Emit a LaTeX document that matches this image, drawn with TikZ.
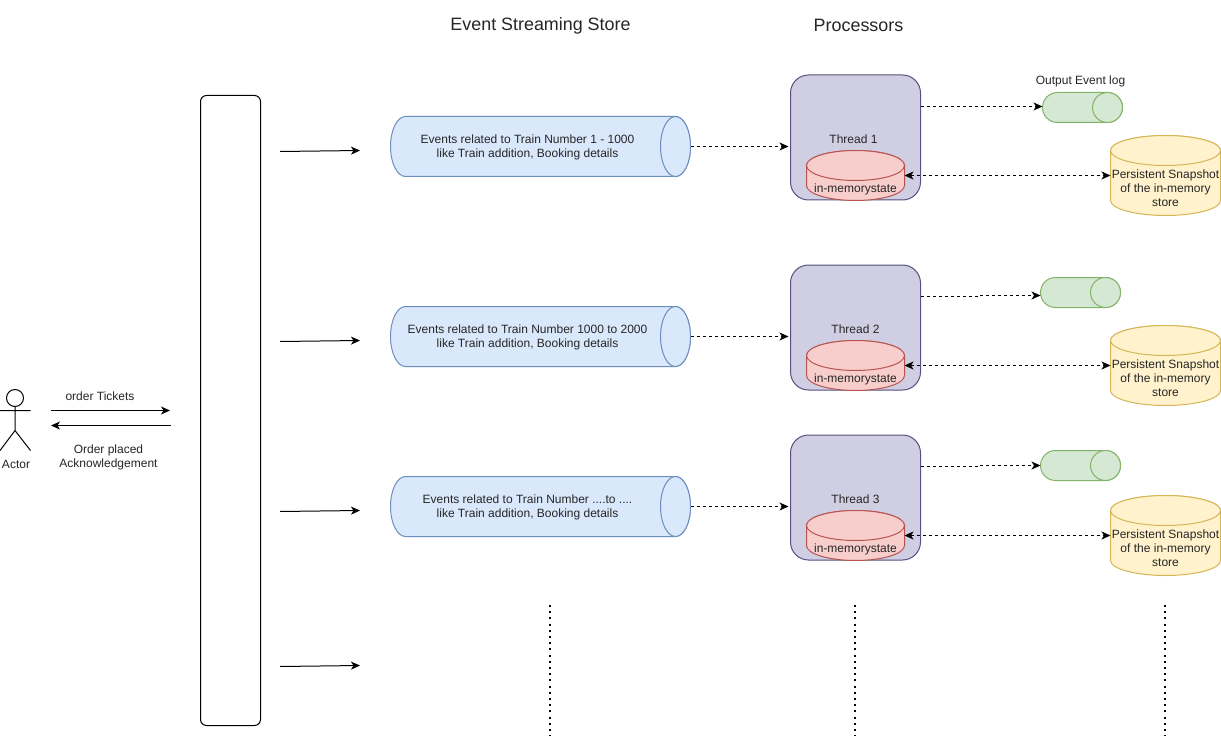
\documentclass[tikz,border=0pt]{standalone}
\usepackage{fontspec}
\setmainfont{Liberation Sans}
\usetikzlibrary{arrows.meta}
\definecolor{bluef}{HTML}{DAE8FC}\definecolor{blues}{HTML}{6C8EBF}
\definecolor{purf}{HTML}{D0CEE2}\definecolor{purs}{HTML}{56517E}
\definecolor{redf}{HTML}{F8CECC}\definecolor{reds}{HTML}{B85450}
\definecolor{grnf}{HTML}{D5E8D4}\definecolor{grns}{HTML}{82B366}
\definecolor{yelf}{HTML}{FFF2CC}\definecolor{yels}{HTML}{D6B656}
\tikzset{
  hit/.style={rectangle,inner sep=0pt,outer sep=0pt},
  lbl/.style={inner sep=0pt,outer sep=0pt,font=\fontsize{12}{14}\selectfont,align=center,text=black!85},
  title/.style={inner sep=0pt,outer sep=0pt,font=\fontsize{17.9}{20}\selectfont,text=black!85},
  conn/.style={line width=1pt,-{Stealth[length=9pt,width=8pt,inset=2.5pt]}},
  dconn/.style={conn,dashed,dash pattern=on 3pt off 3pt},
  ddconn/.style={dconn,{Stealth[length=9pt,width=8pt,inset=2.5pt]}-{Stealth[length=9pt,width=8pt,inset=2.5pt]}},
  dots/.style={line width=2pt,dash pattern=on 2pt off 4.2pt},
  thin line/.style={line width=1pt}
}
% name,x,y,w,h,rx,fill,stroke
\newcommand{\hcyl}[8]{%
  \pgfmathsetmacro{\xa}{#2+#6}\pgfmathsetmacro{\xb}{#2+#4-#6}
  \pgfmathsetmacro{\yb}{#3+#5}\pgfmathsetmacro{\ym}{#3+#5/2}\pgfmathsetmacro{\xm}{#2+#4/2}
  \pgfmathsetmacro{\rr}{#5/2}
  \filldraw[thin line,fill=#7,draw=#8] (\xa,#3) -- (\xb,#3) arc[start angle=90,end angle=-90,x radius=#6pt,y radius=\rr pt] -- (\xa,\yb) arc[start angle=270,end angle=90,x radius=#6pt,y radius=\rr pt] -- cycle;
  \filldraw[thin line,fill=#7,draw=#8] (\xb,\ym) ellipse[x radius=#6pt,y radius=\rr pt];
  \node[hit,minimum width=#4pt,minimum height=#5pt] (#1) at (\xm,\ym) {};
}
% name,x,y,w,h,ry,fill,stroke
\newcommand{\vcyl}[8]{%
  \pgfmathsetmacro{\xb}{#2+#4}\pgfmathsetmacro{\ya}{#3+#6}\pgfmathsetmacro{\yb}{#3+#5-#6}
  \pgfmathsetmacro{\xm}{#2+#4/2}\pgfmathsetmacro{\ym}{#3+#5/2}\pgfmathsetmacro{\rr}{#4/2}
  \filldraw[thin line,fill=#7,draw=#8] (#2,\ya) arc[start angle=180,end angle=0,x radius=\rr pt,y radius=#6pt] -- (\xb,\yb) arc[start angle=0,end angle=-180,x radius=\rr pt,y radius=#6pt] -- cycle;
  \filldraw[thin line,fill=#7,draw=#8] (\xm,\ya) ellipse[x radius=\rr pt,y radius=#6pt];
  \node[hit,minimum width=#4pt,minimum height=#5pt] (#1) at (\xm,\ym) {};
}
\begin{document}
\begin{tikzpicture}[x=1pt,y=-1pt]
\useasboundingbox[fill=white] (0,0) rectangle (1221,738);
% titles
\node[title] (ttl1) at (540.5,25.5) {Event Streaming Store};
\node[title] (ttl2) at (858.5,25.5) {Processors};
% gateway
\node[hit,draw=black,line width=1pt,rounded corners=6pt,minimum width=60pt,minimum height=630pt] (gw) at (230.5,410.5) {};
% actor
\node[hit,circle,draw=black,line width=1pt,minimum size=17pt] (head) at (15,398) {};
\coordinate (armL) at (0,410.5);\coordinate (armR) at (30.5,410.5);
\coordinate (hip) at (15,430.5);\coordinate (legL) at (0,450.5);\coordinate (legR) at (30.5,450.5);
\draw[thin line] (head.south) -- (hip) (armL) -- (armR) (legL) -- (hip) -- (legR);
\node[lbl] (actor) at (16,464.5) {Actor};
\coordinate (oa) at (51,410.5);\coordinate (ob) at (170,410.5);
\coordinate (pa) at (170.5,425.5);\coordinate (pb) at (51,425.5);
\draw[conn] (oa) -- (ob);
\draw[conn] (pa) -- (pb);
\node[lbl] (ot) at (100,396) {order Tickets};
\node[lbl] (oack) at (108.5,457.5) {Order placed\\Acknowledgement};
% gateway arrows
\foreach \n/\ya/\yb in {1/151.5/150.5,2/341.5/340.5,3/511.5/510.5,4/666.5/665.5}{
  \coordinate (ga\n) at (280,\ya);\coordinate (gb\n) at (360,\yb);
  \draw[conn] (ga\n) -- (gb\n);
}
% event stores
\hcyl{ev1}{390.5}{116.5}{300}{60}{15}{bluef}{blues}
\hcyl{ev2}{390.5}{306.5}{300}{60}{15}{bluef}{blues}
\hcyl{ev3}{390.5}{476.5}{300}{60}{15}{bluef}{blues}
\node[lbl] (evt1) at (527.5,147.5) {Events related to Train Number 1 - 1000\\like Train addition, Booking details};
\node[lbl] (evt2) at (527.5,337.5) {Events related to Train Number 1000 to 2000\\like Train addition, Booking details};
\node[lbl] (evt3) at (527.5,507.5) {Events related to Train Number ....to ....\\like Train addition, Booking details};
% threads
\node[hit,draw=purs,fill=purf,line width=1pt,rounded corners=18pt,minimum width=130pt,minimum height=125pt] (th1) at (855.5,137.5) {};
\node[hit,draw=purs,fill=purf,line width=1pt,rounded corners=18pt,minimum width=130pt,minimum height=125pt] (th2) at (855.5,327.5) {};
\node[hit,draw=purs,fill=purf,line width=1pt,rounded corners=18pt,minimum width=130pt,minimum height=125pt] (th3) at (855.5,497.5) {};
\node[lbl] (tht1) at (853.5,139) {Thread 1};
\node[lbl] (tht2) at (855.5,329) {Thread 2};
\node[lbl] (tht3) at (855.5,499) {Thread 3};
% memory
\vcyl{m1}{806.5}{150.5}{98}{50}{15}{redf}{reds}
\vcyl{m2}{806.5}{340.5}{98}{50}{15}{redf}{reds}
\vcyl{m3}{806.5}{510.5}{98}{50}{15}{redf}{reds}
\node[lbl] (mt1) at (855.5,189.5) {in-memorystate};
\node[lbl] (mt2) at (855.5,379.5) {in-memorystate};
\node[lbl] (mt3) at (855.5,549.5) {in-memorystate};
% output logs
\hcyl{o1}{1042.5}{92.5}{80}{30}{15}{grnf}{grns}
\hcyl{o2}{1040.5}{277.5}{80}{30}{15}{grnf}{grns}
\hcyl{o3}{1040.5}{450.5}{80}{30}{15}{grnf}{grns}
\node[lbl] (ol) at (1080.5,81.5) {Output Event log};
% snapshots
\vcyl{s1}{1110.5}{135.5}{110}{80}{15}{yelf}{yels}
\vcyl{s2}{1110.5}{325.5}{110}{80}{15}{yelf}{yels}
\vcyl{s3}{1110.5}{495.5}{110}{80}{15}{yelf}{yels}
\node[lbl] (st1) at (1165.5,188.5) {Persistent Snapshot\\of the in-memory\\store};
\node[lbl] (st2) at (1165.5,378.5) {Persistent Snapshot\\of the in-memory\\store};
\node[lbl] (st3) at (1165.5,548.5) {Persistent Snapshot\\of the in-memory\\store};
% connectors
\foreach \n in {1,2,3}{
  \draw[dconn,shorten >=2pt] (ev\n.east) -- (ev\n.east -| th\n.west);
}
\coordinate (ta1) at (921,106.5);
\draw[dconn] (ta1) -- (ta1 -| o1.west);
\coordinate (ta2) at (921,296.5);\coordinate (tm2) at (980,296.5);\coordinate (tn2) at (980,295.5);
\draw[dconn] (ta2) -- (tm2) -- (tn2) -- (tn2 -| o2.west);
\coordinate (ta3) at (921,466.5);\coordinate (tm3) at (980,466.5);\coordinate (tn3) at (980,465.5);
\draw[dconn] (ta3) -- (tm3) -- (tn3) -- (tn3 -| o3.west);
\draw[ddconn] (m1.east) -- (m1.east -| s1.west);
\draw[ddconn] (m2.east) -- (m2.east -| s2.west);
\draw[ddconn] (m3.east) -- (m3.east -| s3.west);
% dotted
\foreach \n/\x in {1/550,2/855,3/1165}{
  \coordinate (da\n) at (\x,605);\coordinate (db\n) at (\x,736);
  \draw[dots] (da\n) -- (db\n);
}
\end{tikzpicture}
\end{document}
